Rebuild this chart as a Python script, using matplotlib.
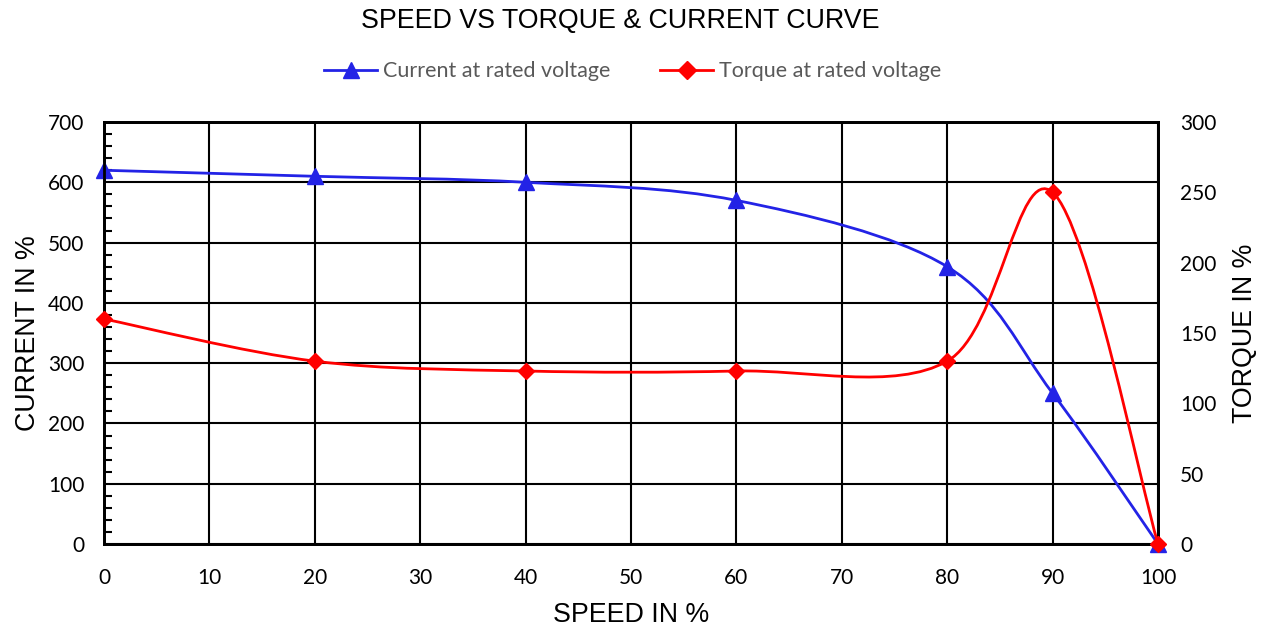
"""
Speed vs torque & current curve (two y axes, smoothed lines)
"""

import numpy as np
import matplotlib
matplotlib.use('Agg')
import matplotlib.pyplot as plt
from matplotlib.path import Path
from matplotlib.patches import PathPatch
from matplotlib.lines import Line2D
from matplotlib.ticker import MultipleLocator

# data
speed = [0, 20, 40, 60, 80, 90, 100]
current = [620, 610, 600, 570, 460, 250, 0]
torque = [160, 130, 123, 123, 130, 250, 0]

x_ticks = list(range(0, 101, 10))
current_ticks = list(range(0, 701, 100))
torque_ticks = list(range(0, 301, 50))

BLUE = '#2323e6'
RED = '#ff0000'
TICK_FONT = 'Lato'
AXIS_FONT = 'Liberation Sans'


def smooth_path(xs, ys):
    """Excel-style smoothed line: cubic Bezier through every point"""
    pts = np.column_stack([xs, ys]).astype(float)
    n = len(pts)
    verts = [pts[0]]
    codes = [Path.MOVETO]
    for i in range(n - 1):
        p_prev = pts[max(i - 1, 0)]
        p0 = pts[i]
        p1 = pts[i + 1]
        p_next = pts[min(i + 2, n - 1)]
        c1 = p0 + (p1 - p_prev) / 6.0
        c2 = p1 - (p_next - p0) / 6.0
        verts += [c1, c2, p1]
        codes += [Path.CURVE4] * 3
    return Path(verts, codes)


fig = plt.figure(figsize=(12.63, 6.29), dpi=100)
ax = fig.add_axes([0.0823, 0.1351, 0.8346, 0.6709])
ax2 = ax.twinx()

# current on the left axis
ax.add_patch(PathPatch(smooth_path(speed, current), facecolor='none',
                       edgecolor=BLUE, lw=2, zorder=3))
ax.plot(speed, current, linestyle='none', marker='^', markersize=11,
        color=BLUE, zorder=4, clip_on=False)

# torque on the right axis
ax2.add_patch(PathPatch(smooth_path(speed, torque), facecolor='none',
                        edgecolor=RED, lw=2, zorder=3))
ax2.plot(speed, torque, linestyle='none', marker='D', markersize=8,
         color=RED, zorder=4, clip_on=False)

ax.set_xlim(0, 100)
ax.set_ylim(0, 700)
ax2.set_ylim(0, 300)
ax.set_xticks(x_ticks)
ax.set_yticks(current_ticks)
ax2.set_yticks(torque_ticks)
ax.yaxis.set_minor_locator(MultipleLocator(20))

ax.grid(True, which='major', color='black', lw=1.5)
ax.set_axisbelow(True)

for a in (ax, ax2):
    for s in a.spines.values():
        s.set_linewidth(2)
        s.set_color('black')

ax.tick_params(axis='x', length=0, pad=17, labelsize=15)
ax.tick_params(axis='y', which='major', direction='in', length=0, pad=14, labelsize=15)
ax.tick_params(axis='y', which='minor', direction='in', length=6, width=1.5)
ax2.tick_params(axis='y', length=0, pad=16, labelsize=15)
for lab in ax.get_xticklabels() + ax.get_yticklabels() + ax2.get_yticklabels():
    lab.set_fontfamily(TICK_FONT)

ax.set_xlabel('SPEED IN %', fontsize=19.3, fontfamily=AXIS_FONT, labelpad=10)
ax.set_ylabel('CURRENT IN %', fontsize=19.3, fontfamily=AXIS_FONT, labelpad=5)
ax2.set_ylabel('TORQUE IN %', fontsize=19.3, fontfamily=AXIS_FONT, labelpad=11)

fig.text(0.491, 0.966, 'SPEED VS TORQUE & CURRENT CURVE', ha='center', va='center',
         fontsize=19.3, fontfamily=AXIS_FONT)

handles = [
    Line2D([], [], color=BLUE, lw=2, marker='^', markersize=12),
    Line2D([], [], color=RED, lw=2, marker='D', markersize=9),
]
leg = fig.legend(handles, ['Current at rated voltage', 'Torque at rated voltage'],
                 loc='center', bbox_to_anchor=(0.501, 0.887), ncol=2, frameon=False,
                 handlelength=2.47, handletextpad=0.28, columnspacing=2.3,
                 prop={'family': TICK_FONT, 'size': 15.5})
for t in leg.get_texts():
    t.set_color('#595959')

fig.savefig('out.png', dpi=100)
